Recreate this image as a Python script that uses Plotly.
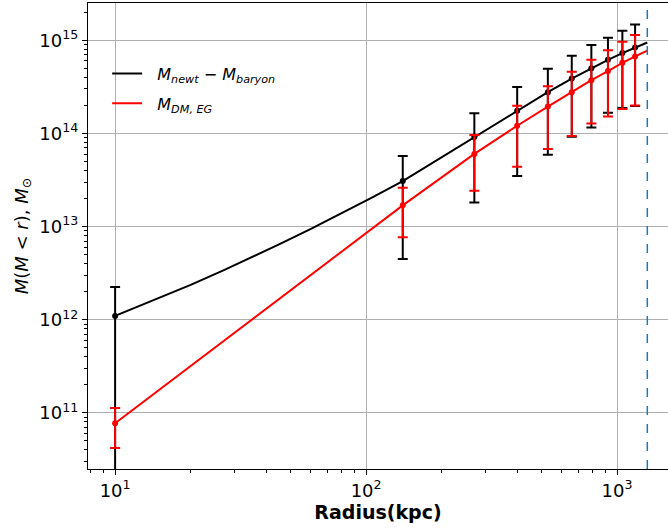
import plotly.graph_objects as go

# Measured points (kpc, solar masses)
radius = [10, 140, 270, 400, 530, 660, 790, 920, 1050, 1180]
m_newt_minus_baryon = [1.10e12, 3.08e13, 9.16e13, 1.75e14, 2.77e14, 3.88e14, 5.02e14, 6.17e14, 7.28e14, 8.37e14]
err_newt = [1.15e12, 2.63e13, 7.35e13, 1.40e14, 2.18e14, 2.96e14, 3.86e14, 4.50e14, 5.40e14, 6.40e14]
m_dm_eg = [7.76e10, 1.69e13, 6.03e13, 1.21e14, 1.94e14, 2.77e14, 3.73e14, 4.67e14, 5.73e14, 6.70e14]
err_eg = [3.55e10, 9.2e12, 3.6e13, 7.7e13, 1.26e14, 1.83e14, 2.45e14, 3.15e14, 3.90e14, 4.70e14]

# Model curves
curve_r_newt = [10, 15, 20, 27, 35, 45, 60, 80, 105, 140, 270, 400, 530, 660, 790, 920, 1050, 1180, 1320]
curve_m_newt = [1.10e12, 1.71e12, 2.37e12, 3.39e12, 4.67e12, 6.43e12, 9.40e12, 1.39e13, 2.03e13, 3.08e13,
                9.16e13, 1.75e14, 2.77e14, 3.88e14, 5.02e14, 6.17e14, 7.28e14, 8.37e14, 9.47e14]
curve_r_eg = [10, 140, 270, 400, 530, 660, 790, 920, 1050, 1180, 1320]
curve_m_eg = [7.76e10, 1.69e13, 6.03e13, 1.21e14, 1.94e14, 2.77e14, 3.73e14, 4.67e14, 5.73e14, 6.70e14, 7.76e14]

R_VIR = 1320

# Tick labels
x_tickvals = [10, 100, 1000]
x_ticktext = ["10<sup>1</sup>", "10<sup>2</sup>", "10<sup>3</sup>"]
y_tickvals = [1e11, 1e12, 1e13, 1e14, 1e15]
y_ticktext = ["10<sup>11</sup>", "10<sup>12</sup>", "10<sup>13</sup>", "10<sup>14</sup>", "10<sup>15</sup>"]

PAD = "\u00a0\u00a0"
label_newt = PAD + "<i>M</i><sub><i>newt</i></sub> \u2212 <i>M</i><sub><i>baryon</i></sub>"
label_eg = PAD + "<i>M</i><sub><i>DM, EG</i></sub>"

FONT = "DejaVu Sans"

fig = go.Figure()

fig.add_trace(go.Scatter(x=curve_r_newt, y=curve_m_newt, mode="lines",
                         line=dict(color="black", width=2), name=label_newt,
                         legendgroup="a", hoverinfo="skip"))
fig.add_trace(go.Scatter(x=radius, y=m_newt_minus_baryon, mode="markers",
                         marker=dict(color="black", size=6),
                         error_y=dict(type="data", array=err_newt, color="black",
                                      thickness=2, width=5),
                         showlegend=False))
fig.add_trace(go.Scatter(x=curve_r_eg, y=curve_m_eg, mode="lines",
                         line=dict(color="red", width=2), name=label_eg,
                         legendgroup="b", hoverinfo="skip"))
fig.add_trace(go.Scatter(x=radius, y=m_dm_eg, mode="markers",
                         marker=dict(color="red", size=6),
                         error_y=dict(type="data", array=err_eg, color="red",
                                      thickness=2, width=5),
                         showlegend=False))

fig.add_vline(x=R_VIR, line=dict(color="#1f77b4", width=1.5, dash="dash"))

fig.update_layout(
    width=668, height=529,
    margin=dict(l=88, r=0, t=3, b=60),
    plot_bgcolor="white", paper_bgcolor="white",
    font=dict(family=FONT, size=15, color="black"),
    legend=dict(x=0.033, y=0.885, xanchor="left", yanchor="top",
                bgcolor="rgba(0,0,0,0)", font=dict(size=16, family=FONT),
                tracegroupgap=6, traceorder="grouped"),
    showlegend=True,
)

fig.update_xaxes(type="log", range=[0.892, 3.203],
                 tickmode="array", tickvals=x_tickvals, ticktext=x_ticktext,
                 showgrid=True, gridcolor="#b0b0b0", gridwidth=1,
                 showline=True, linecolor="black", linewidth=1.2, mirror=True,
                 ticks="outside", ticklen=5, tickcolor="black",
                 minor=dict(ticks="outside", ticklen=3, tickcolor="black", showgrid=False, dtick="D1"),
                 tickfont=dict(size=18),
                 title=dict(text="<b>Radius(kpc)</b>", font=dict(size=19), standoff=3),
                 zeroline=False)
fig.update_yaxes(type="log", range=[10.398, 15.40],
                 tickmode="array", tickvals=y_tickvals, ticktext=y_ticktext,
                 showgrid=True, gridcolor="#b0b0b0", gridwidth=1,
                 showline=True, linecolor="black", linewidth=1.2, mirror=False,
                 ticks="outside", ticklen=5, tickcolor="black",
                 minor=dict(ticks="outside", ticklen=3, tickcolor="black", showgrid=False, dtick="D1"),
                 tickfont=dict(size=18),
                 title=dict(text="<i>M</i>(<i>M</i> < <i>r</i>), <i>M</i><sub>\u2299</sub>",
                            font=dict(size=18), standoff=6),
                 zeroline=False)

fig.write_html("out.html", config={"displayModeBar": False},
               post_script="document.body.style.margin='0';")
